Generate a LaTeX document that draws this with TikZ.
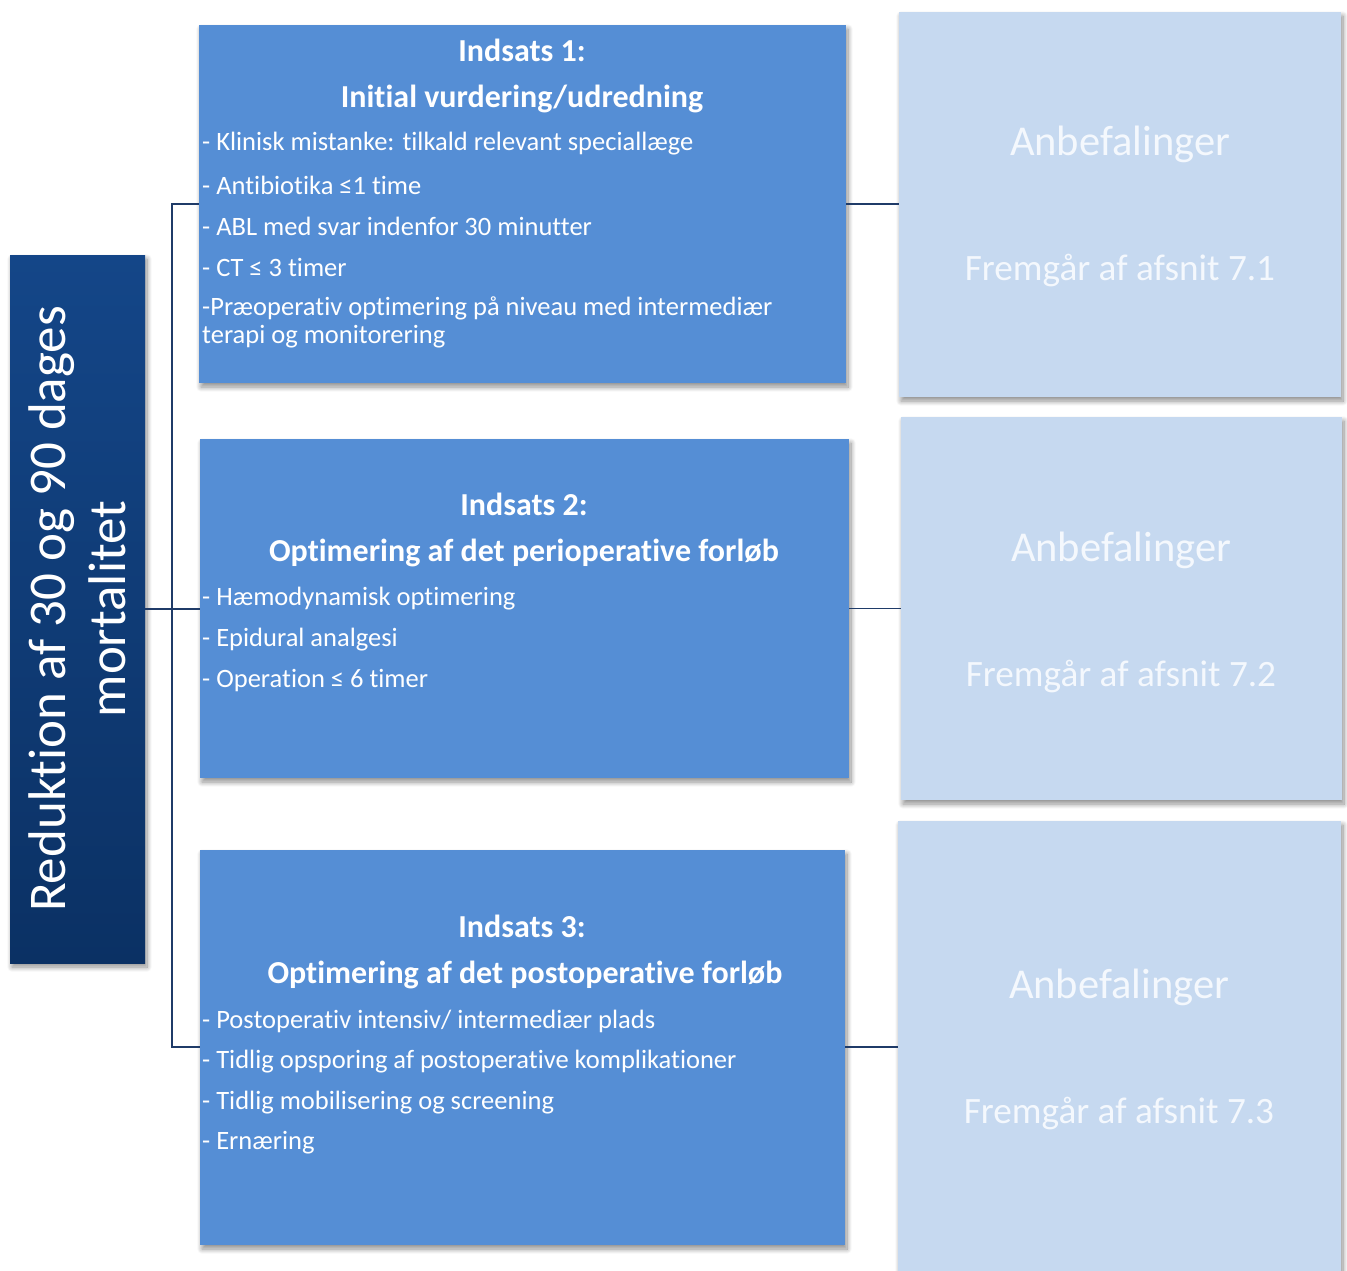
\documentclass[tikz,border=0pt]{standalone}
\usepackage{fontspec}
\setmainfont[Ligatures=NoCommon]{Carlito}
\usetikzlibrary{shadows,shadows.blur}
\definecolor{navyA}{HTML}{144688}
\definecolor{navyB}{HTML}{0B3164}
\definecolor{midblue}{HTML}{558ED5}
\definecolor{lightblue}{HTML}{C6D9F0}
\definecolor{linecol}{HTML}{1F3B68}
\definecolor{paletext}{HTML}{F4F8FD}
\tikzset{
  shad/.style={blur shadow={shadow xshift=2pt, shadow yshift=-4pt, shadow blur radius=5pt, shadow blur steps=10, shadow opacity=45}},
  mainbox/.style={rectangle, anchor=north west, outer sep=0pt, inner sep=0pt, top color=navyA, bottom color=navyB, shad},
  actbox/.style={rectangle, anchor=north west, outer sep=0pt, inner sep=0pt, fill=midblue, shad},
  recbox/.style={rectangle, anchor=north west, outer sep=0pt, inner sep=0pt, fill=lightblue, shad},
  ttl/.style={text=white, font=\fontsize{32}{36}\selectfont\bfseries, inner sep=0pt, yshift=-3pt},
  itm/.style={text=white, font=\fontsize{26.5}{30}\selectfont, inner sep=0pt, anchor=west, yshift=-3pt},
  rtxt/.style={text=paletext, font=\fontsize{42.5}{48}\selectfont, inner sep=0pt, yshift=-3pt},
  rsub/.style={text=paletext, font=\fontsize{37.2}{42}\selectfont, inner sep=0pt, yshift=-3pt},
  conn/.style={draw=linecol, line width=1.8pt},
}
\begin{document}
\begin{tikzpicture}[x=1pt,y=-1pt]
\useasboundingbox (0,0) rectangle (1347,1270);
% boxes
\node[mainbox, minimum width=135pt, minimum height=708pt] (L) at (10,255) {};
\node[actbox, minimum width=647pt, minimum height=358pt] (b1) at (199,25) {};
\node[actbox, minimum width=649pt, minimum height=339pt] (b2) at (200,439) {};
\node[actbox, minimum width=645pt, minimum height=395pt] (b3) at (200,850) {};
\node[recbox, minimum width=442pt, minimum height=385pt] (r1) at (899,12) {};
\node[recbox, minimum width=441pt, minimum height=383pt] (r2) at (901,417) {};
\node[recbox, minimum width=443pt, minimum height=460pt] (r3) at (898,821) {};
% connectors
\coordinate (s1) at (172,204);
\coordinate (s3) at (172,1047);
\draw[conn] (b1.west) -- (s1) -- (s3) -- (b3.west |- s3);
\draw[conn] (L.east) -- (L.east -| b2.west);
\draw[conn] (b1.east) -- (b1.east -| r1.west);
\draw[conn] (b2.east) -- (b2.east -| r2.west);
\draw[conn] (b3.east |- s3) -- (s3 -| r3.west);
% left text
\node[text=white, font=\fontsize{53}{60}\selectfont, rotate=90, align=center, inner sep=0pt] (Lt) at (77,609) {Reduktion af 30 og 90 dages\\mortalitet};
% box 1
\node[ttl] (t1a) at (522,47) {Indsats 1:};
\node[ttl] (t1b) at (522,96) {Initial vurdering/udredning};
\node[itm] (i11) at (202,141) {- Klinisk mistanke: tilkald relevant speciallæge};
\node[itm] (i12) at (202,182) {- Antibiotika ≤1 time};
\node[itm] (i13) at (202,223) {- ABL med svar indenfor 30 minutter};
\node[itm] (i14) at (202,264) {- CT ≤ 3 timer};
\node[itm] (i15) at (202,305) {-Præoperativ optimering på niveau med intermediær};
\node[itm] (i16) at (202,334) {terapi og monitorering};
% box 2
\node[ttl] (t2a) at (524,501) {Indsats 2:};
\node[ttl] (t2b) at (524,550) {Optimering af det perioperative forløb};
\node[itm] (i21) at (202,596) {- Hæmodynamisk optimering};
\node[itm] (i22) at (202,637) {- Epidural analgesi};
\node[itm] (i23) at (202,678) {- Operation ≤ 6 timer};
% box 3
\node[ttl] (t3a) at (522,923) {Indsats 3:};
\node[ttl] (t3b) at (525,972) {Optimering af det postoperative forløb};
\node[itm] (i31) at (202,1018) {- Postoperativ intensiv/ intermediær plads};
\node[itm] (i32) at (202,1059) {- Tidlig opsporing af postoperative komplikationer};
\node[itm] (i33) at (202,1100) {- Tidlig mobilisering og screening};
\node[itm] (i34) at (202,1140) {- Ernæring};
% right texts
\node[rtxt] (a1) at (1120,141) {Anbefalinger};
\node[rsub] (f1) at (1120,268) {Fremgår af afsnit 7.1};
\node[rtxt] (a2) at (1121,547) {Anbefalinger};
\node[rsub] (f2) at (1121,674) {Fremgår af afsnit 7.2};
\node[rtxt] (a3) at (1119,984) {Anbefalinger};
\node[rsub] (f3) at (1119,1111) {Fremgår af afsnit 7.3};
\end{tikzpicture}
\end{document}
